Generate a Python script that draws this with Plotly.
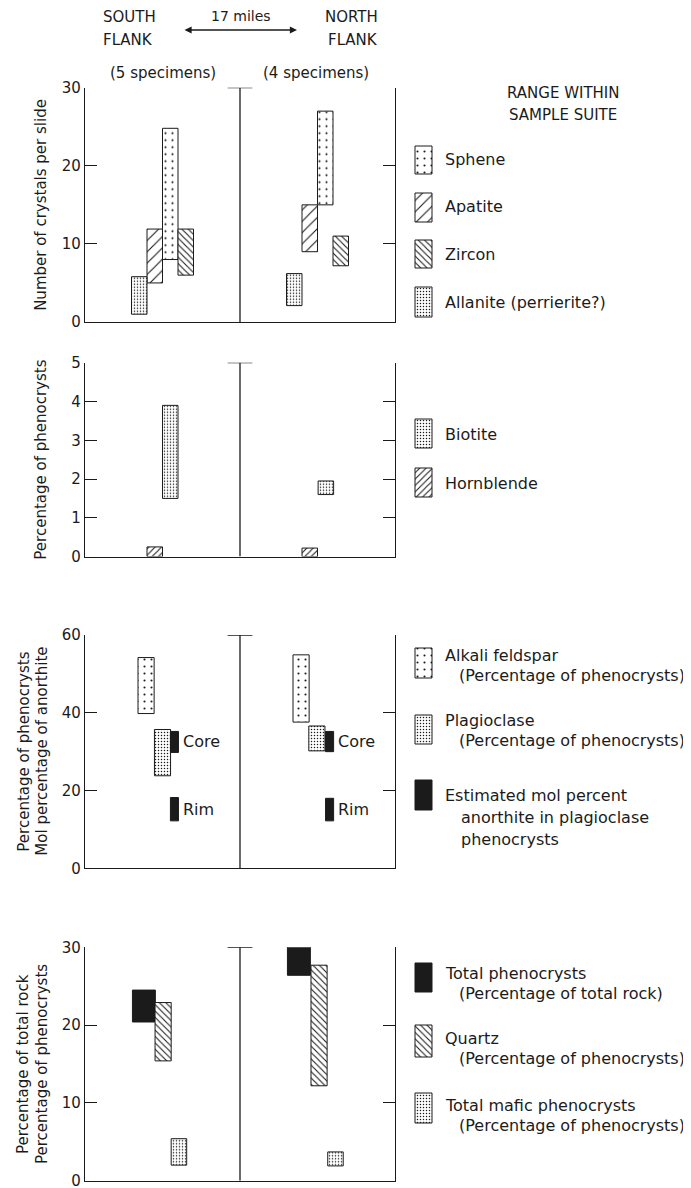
import plotly.graph_objects as go

# ---------------- DATA ----------------
# Panel 1: number of crystals per slide (low/high of range within sample suite)
minerals1 = ["Sphene", "Apatite", "Zircon", "Allanite (perrierite?)"]
south1_low = [8.0, 5.0, 6.0, 1.0]
south1_high = [24.8, 11.9, 11.9, 5.8]
north1_low = [15.0, 9.0, 7.2, 2.1]
north1_high = [27.0, 15.0, 11.0, 6.2]

# Panel 2: percentage of phenocrysts
minerals2 = ["Biotite", "Hornblende"]
south2_low = [1.5, 0.0]
south2_high = [3.9, 0.25]
north2_low = [1.6, 0.0]
north2_high = [1.95, 0.22]

# Panel 3: feldspars (percentage of phenocrysts) and mol % anorthite
items3 = ["Alkali feldspar", "Plagioclase", "Core", "Rim"]
south3_low = [39.8, 23.8, 29.8, 12.2]
south3_high = [54.2, 35.7, 35.2, 18.2]
north3_low = [37.6, 30.2, 30.0, 12.2]
north3_high = [54.9, 36.6, 35.2, 18.0]

# Panel 4: total phenocrysts, quartz, total mafic phenocrysts
items4 = ["Total phenocrysts", "Quartz", "Total mafic phenocrysts"]
south4_low = [20.4, 15.4, 2.0]
south4_high = [24.5, 22.9, 5.4]
north4_low = [26.4, 12.2, 1.9]
north4_high = [30.4, 27.7, 3.7]

y_ticks1 = [0, 10, 20, 30]
y_ticks2 = [0, 1, 2, 3, 4, 5]
y_ticks3 = [0, 20, 40, 60]
y_ticks4 = [0, 10, 20, 30]

# ---------------- LAYOUT / STYLE ----------------
W, H = 691, 1188
OFF = 8  # page body margin of the html page
FONT = "DejaVu Sans"
INK = "#1b1b1b"


def pxx(p):
    return (p - OFF) / W


def pxy(p):
    return 1 - (p - OFF) / H


def suf(i):
    return "" if i == 1 else str(i)


STYLES = {
    "sparse_dots": dict(shape=".", size=7, solidity=0.07),
    "dense_dots": dict(shape=".", size=3, solidity=0.2),
    "fwd_sparse": dict(shape="/", size=8, solidity=0.14),
    "fwd_dense": dict(shape="/", size=4.5, solidity=0.24),
    "back_dense": dict(shape="\\", size=4.5, solidity=0.24),
    "solid": None,
}


def marker_for(style):
    p = STYLES[style]
    if p is None:
        return dict(color=INK, line=dict(color=INK, width=1))
    return dict(color="white", line=dict(color=INK, width=1),
                pattern=dict(fgcolor=INK, bgcolor="white", fillmode="replace", **p))


# x slots (axis units 0..10; divider at 5): (south centre, north centre, width)
panels = [
    dict(top=87.7, bottom=322.0, ymax=30, ticks=y_ticks1,
         names=minerals1, slo=south1_low, shi=south1_high, nlo=north1_low, nhi=north1_high,
         pos=[(2.75, 7.75, 0.5), (2.25, 7.25, 0.5), (3.25, 8.25, 0.5), (1.75, 6.75, 0.5)],
         sty=["sparse_dots", "fwd_sparse", "back_dense", "dense_dots"]),
    dict(top=362.7, bottom=556.6, ymax=5, ticks=y_ticks2,
         names=minerals2, slo=south2_low, shi=south2_high, nlo=north2_low, nhi=north2_high,
         pos=[(2.75, 7.77, 0.5), (2.25, 7.25, 0.5)],
         sty=["dense_dots", "fwd_dense"]),
    dict(top=635.0, bottom=868.3, ymax=60, ticks=y_ticks3,
         names=items3, slo=south3_low, shi=south3_high, nlo=north3_low, nhi=north3_high,
         pos=[(1.97, 6.97, 0.52), (2.5, 7.48, 0.52), (2.885, 7.89, 0.26), (2.885, 7.89, 0.26)],
         sty=["sparse_dots", "dense_dots", "solid", "solid"]),
    dict(top=947.3, bottom=1180.7, ymax=30, ticks=y_ticks4,
         names=items4, slo=south4_low, shi=south4_high, nlo=north4_low, nhi=north4_high,
         pos=[(1.9, 6.9, 0.74), (2.52, 7.55, 0.52), (3.03, 8.08, 0.5)],
         sty=["solid", "back_dense", "dense_dots"]),
]

fig = go.Figure()
annotations = []
shapes = []
layout_axes = {}

for i, p in enumerate(panels, start=1):
    xa, ya = "x" + suf(i), "y" + suf(i)
    for j, name in enumerate(p["names"]):
        xs, xn, w = p["pos"][j]
        lows = [p["slo"][j], p["nlo"][j]]
        highs = [p["shi"][j], p["nhi"][j]]
        fig.add_trace(go.Bar(
            x=[xs, xn], base=lows, y=[h - l for h, l in zip(highs, lows)],
            width=w, name=name, xaxis=xa, yaxis=ya,
            marker=marker_for(p["sty"][j]), hoverinfo="name+y", showlegend=False))
    layout_axes["xaxis" + suf(i)] = dict(
        domain=[pxx(85), pxx(395)], range=[0, 10], anchor=ya, automargin=False,
        showline=True, linecolor=INK, linewidth=1.3, ticks="",
        showticklabels=False, showgrid=False, zeroline=False, fixedrange=True)
    layout_axes["yaxis" + suf(i)] = dict(
        domain=[pxy(p["bottom"]), pxy(p["top"])], range=[0, p["ymax"]], anchor=xa,
        automargin=False,
        tickmode="array", tickvals=p["ticks"], ticktext=[str(t) for t in p["ticks"]],
        ticks="inside", ticklen=12, tickwidth=1.3, tickcolor=INK,
        showline=True, mirror="ticks", linecolor=INK, linewidth=1.3,
        showgrid=False, zeroline=False, fixedrange=True,
        tickfont=dict(family=FONT, size=15, color=INK))
    # middle divider with cap
    shapes.append(dict(type="line", xref=xa, yref=ya, x0=5, x1=5, y0=0, y1=p["ymax"],
                       line=dict(color=INK, width=1.3)))
    shapes.append(dict(type="line", xref=xa, yref=ya, x0=4.6, x1=5.4, y0=p["ymax"], y1=p["ymax"],
                       line=dict(color=INK, width=1.3)))

# Core / Rim labels next to the anorthite bars
p3 = panels[2]
for j, lab in [(2, "Core"), (3, "Rim")]:
    xs, xn, w = p3["pos"][j]
    for xc, lo, hi in [(xs, p3["slo"][j], p3["shi"][j]), (xn, p3["nlo"][j], p3["nhi"][j])]:
        annotations.append(dict(xref="x3", yref="y3", x=xc + w / 2 + 0.08, y=(lo + hi) / 2,
                                text=lab, showarrow=False, xanchor="left", yanchor="middle",
                                font=dict(family=FONT, size=16, color=INK)))

# Y-axis titles
axis_titles = [
    (1, 41, "Number of crystals per slide"),
    (2, 41, "Percentage of phenocrysts"),
    (3, 24, "Percentage of phenocrysts"),
    (3, 42, "Mol percentage of anorthite"),
    (4, 23, "Percentage of total rock"),
    (4, 42, "Percentage of phenocrysts"),
]
for i, xp, t in axis_titles:
    annotations.append(dict(xref="paper", yref="y" + suf(i) + " domain", x=pxx(xp), y=0.5,
                            text=t, textangle=-90, showarrow=False, xanchor="center",
                            yanchor="middle", font=dict(family=FONT, size=15, color=INK)))

# Header
hdr = dict(family=FONT, size=15, color=INK)
annotations += [
    dict(xref="paper", yref="paper", x=pxx(101), y=pxy(17), text="SOUTH", xanchor="left",
         yanchor="middle", showarrow=False, font=hdr),
    dict(xref="paper", yref="paper", x=pxx(101), y=pxy(40), text="FLANK", xanchor="left",
         yanchor="middle", showarrow=False, font=hdr),
    dict(xref="paper", yref="paper", x=pxx(380), y=pxy(17), text="NORTH", xanchor="right",
         yanchor="middle", showarrow=False, font=hdr),
    dict(xref="paper", yref="paper", x=pxx(380), y=pxy(40), text="FLANK", xanchor="right",
         yanchor="middle", showarrow=False, font=hdr),
    dict(xref="paper", yref="paper", x=pxx(241), y=pxy(16), text="17 miles", xanchor="center",
         yanchor="middle", showarrow=False, font=dict(family=FONT, size=14, color=INK)),
    dict(xref="paper", yref="paper", x=pxx(297), y=pxy(30), ax=-114, ay=0, text="",
         showarrow=True, arrowside="end+start", arrowhead=2, arrowsize=1.1, arrowwidth=1.3,
         arrowcolor=INK),
    dict(xref="paper", yref="paper", x=pxx(163), y=pxy(73), text="(5 specimens)",
         xanchor="center", yanchor="middle", showarrow=False, font=hdr),
    dict(xref="paper", yref="paper", x=pxx(316), y=pxy(73), text="(4 specimens)",
         xanchor="center", yanchor="middle", showarrow=False, font=hdr),
    dict(xref="paper", yref="paper", x=pxx(563), y=pxy(93), text="RANGE WITHIN",
         xanchor="center", yanchor="middle", showarrow=False, font=hdr),
    dict(xref="paper", yref="paper", x=pxx(563), y=pxy(115), text="SAMPLE SUITE",
         xanchor="center", yanchor="middle", showarrow=False, font=hdr),
]

# Legend: swatches drawn as bars on an invisible full-page axis, plus text labels
legend_items = [
    # (style, top px, bottom px, [(text, x px, y px), ...])
    ("sparse_dots", 146, 174, [("Sphene", 443, 160)]),
    ("fwd_sparse", 193, 222, [("Apatite", 443, 207)]),
    ("back_dense", 240, 268, [("Zircon", 443, 254)]),
    ("dense_dots", 287, 317, [("Allanite (perrierite?)", 443, 302)]),
    ("dense_dots", 419, 448, [("Biotite", 443, 434)]),
    ("fwd_dense", 468, 497, [("Hornblende", 443, 483)]),
    ("sparse_dots", 648, 678, [("Alkali feldspar", 443, 655),
                               ("(Percentage of phenocrysts)", 457, 675)]),
    ("dense_dots", 715, 744, [("Plagioclase", 443, 720),
                              ("(Percentage of phenocrysts)", 457, 740)]),
    ("solid", 780, 810, [("Estimated mol percent", 443, 795),
                         ("anorthite in plagioclase", 459, 817),
                         ("phenocrysts", 459, 839)]),
    ("solid", 963, 992, [("Total phenocrysts", 443, 973),
                         ("(Percentage of total rock)", 457, 993)]),
    ("back_dense", 1025, 1057, [("Quartz", 443, 1038),
                                ("(Percentage of phenocrysts)", 457, 1058)]),
    ("dense_dots", 1093, 1123, [("Total mafic phenocrysts", 443, 1105),
                                ("(Percentage of phenocrysts)", 457, 1125)]),
]
for sty, t0, t1, texts in legend_items:
    fig.add_trace(go.Bar(x=[423.5], base=[t0], y=[t1 - t0], width=17, xaxis="x5", yaxis="y5",
                         marker=marker_for(sty), hoverinfo="skip", showlegend=False))
    for txt, xp, yp in texts:
        annotations.append(dict(xref="paper", yref="paper", x=pxx(xp), y=pxy(yp), text=txt,
                                xanchor="left", yanchor="middle", showarrow=False,
                                font=dict(family=FONT, size=16, color=INK)))

layout_axes["xaxis5"] = dict(domain=[0, 1], range=[OFF, W + OFF], visible=False, anchor="y5",
                             fixedrange=True, automargin=False)
layout_axes["yaxis5"] = dict(domain=[0, 1], range=[H + OFF, OFF], visible=False, anchor="x5",
                             fixedrange=True, automargin=False)

fig.update_layout(
    width=W, height=H, autosize=False,
    margin=dict(l=0, r=0, t=0, b=0, pad=0),
    paper_bgcolor="white", plot_bgcolor="rgba(0,0,0,0)",
    barmode="overlay", showlegend=False,
    font=dict(family=FONT, color=INK),
    annotations=annotations, shapes=shapes,
    **layout_axes,
)

fig.write_html("out.html")
